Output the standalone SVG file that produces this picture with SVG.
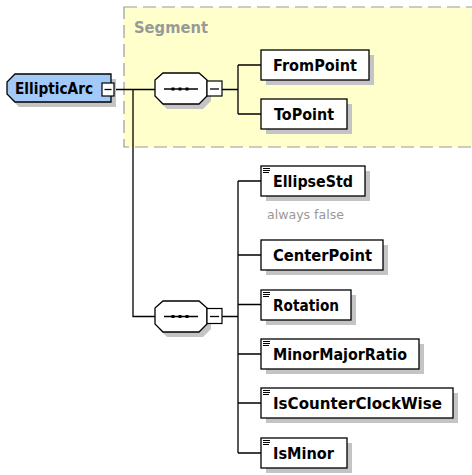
<svg xmlns="http://www.w3.org/2000/svg" width="472" height="475" viewBox="0 0 472 475">
<defs>
<style>
.sh{fill:#c4c4c4;stroke:none}
.box{fill:#ffffff;stroke:#000;stroke-width:1.3}
.t{font-family:"DejaVu Sans",Verdana,sans-serif;font-weight:bold;font-size:15px;fill:#000}
.ln{stroke:#000;stroke-width:1.3;fill:none}
.mb{fill:#fff;stroke:#000;stroke-width:1.2}
.ic{stroke:#000;stroke-width:1;fill:none}
</style>
<path id="oct" d="M8,0 H44 L52,7 V23 L44,31 H8 L0,23 V7 Z"/>
</defs>
<rect x="0" y="0" width="472" height="475" fill="#fff"/>

<g id="segment">
<rect x="124" y="7" width="360" height="140" fill="#ffffcc" stroke="#999" stroke-width="1.2" stroke-dasharray="13 6"/>
<text x="134" y="33" font-family="'DejaVu Sans',Verdana,sans-serif" font-weight="bold" font-size="15" fill="#999" textLength="74" lengthAdjust="spacingAndGlyphs">Segment</text>
</g>

<g id="connectors" class="ln">
<path d="M114,89.5 H155"/>
<path d="M133,89.5 V316.5 H155"/>
<path d="M222,89.5 H238 M238,65 V114 M238,65 H261 M238,114 H261"/>
<path d="M222,316.5 H238 M238,181 V453 M238,181 H261 M238,255 H261 M238,304.5 H261 M238,354 H261 M238,403 H261 M238,453 H261"/>
</g>

<g id="EllipticArc">
<path class="sh" d="M19,79 H116 V107 H19 L11,99 V87 Z"/>
<path d="M15,74 H111 V102 H15 L7,94 V82 Z" fill="#a2c9f7" stroke="#000" stroke-width="1.3"/>
<text class="t" x="15" y="94" textLength="78" lengthAdjust="spacingAndGlyphs">EllipticArc</text>
<rect class="mb" x="102" y="83" width="12" height="13"/>
<path class="ln" d="M104.5,89.5 H111.5"/>
</g>

<g id="seq1">
<use href="#oct" x="159" y="78" class="sh"/>
<use href="#oct" x="155" y="73" fill="#fff" stroke="#000" stroke-width="1.3"/>
<path class="ln" d="M164,89 H198"/>
<rect x="171.5" y="87.5" width="3" height="3" fill="#000"/>
<rect x="178.5" y="87.5" width="3" height="3" fill="#000"/>
<rect x="185.5" y="87.5" width="3" height="3" fill="#000"/>
<rect class="mb" x="207" y="81" width="15" height="15"/>
<path class="ln" d="M210,89 H219"/>
</g>

<g id="seq2">
<use href="#oct" x="159" y="306" class="sh"/>
<use href="#oct" x="155" y="301" fill="#fff" stroke="#000" stroke-width="1.3"/>
<path class="ln" d="M164,316.5 H198"/>
<rect x="171.5" y="315" width="3" height="3" fill="#000"/>
<rect x="178.5" y="315" width="3" height="3" fill="#000"/>
<rect x="185.5" y="315" width="3" height="3" fill="#000"/>
<rect class="mb" x="207" y="308.5" width="15" height="15"/>
<path class="ln" d="M210,316.5 H219"/>
</g>

<g id="FromPoint">
<rect class="sh" x="266" y="55" width="108" height="30"/>
<rect class="box" x="261" y="50" width="108" height="30"/>
<text class="t" x="273" y="71" textLength="84" lengthAdjust="spacingAndGlyphs">FromPoint</text>
</g>

<g id="ToPoint">
<rect class="sh" x="266" y="104" width="86" height="30"/>
<rect class="box" x="261" y="99" width="86" height="30"/>
<text class="t" x="274" y="120" textLength="60" lengthAdjust="spacingAndGlyphs">ToPoint</text>
</g>

<g id="EllipseStd">
<rect class="sh" x="266" y="171" width="104" height="30"/>
<rect class="box" x="261" y="166" width="104" height="30"/>
<path class="ic" d="M263,168.5 H270 M263,170.5 H270 M263,172.5 H269"/>
<text class="t" x="273" y="187" textLength="80" lengthAdjust="spacingAndGlyphs">EllipseStd</text>
<text x="267" y="219" font-family="'DejaVu Sans',Verdana,sans-serif" font-size="12" fill="#999" textLength="77" lengthAdjust="spacingAndGlyphs">always false</text>
</g>

<g id="CenterPoint">
<rect class="sh" x="266" y="245" width="122" height="30"/>
<rect class="box" x="261" y="240" width="122" height="30"/>
<text class="t" x="273" y="261" textLength="99" lengthAdjust="spacingAndGlyphs">CenterPoint</text>
</g>

<g id="Rotation">
<rect class="sh" x="266" y="295" width="90" height="30"/>
<rect class="box" x="261" y="290" width="90" height="30"/>
<path class="ic" d="M263,292.5 H270 M263,294.5 H270 M263,296.5 H269"/>
<text class="t" x="273" y="311" textLength="66" lengthAdjust="spacingAndGlyphs">Rotation</text>
</g>

<g id="MinorMajorRatio">
<rect class="sh" x="266" y="344" width="158" height="30"/>
<rect class="box" x="261" y="339" width="158" height="30"/>
<path class="ic" d="M263,341.5 H270 M263,343.5 H270 M263,345.5 H269"/>
<text class="t" x="273" y="360" textLength="134" lengthAdjust="spacingAndGlyphs">MinorMajorRatio</text>
</g>

<g id="IsCounterClockWise">
<rect class="sh" x="266" y="393" width="192" height="30"/>
<rect class="box" x="261" y="388" width="192" height="30"/>
<path class="ic" d="M263,390.5 H270 M263,392.5 H270 M263,394.5 H269"/>
<text class="t" x="273" y="409" textLength="169" lengthAdjust="spacingAndGlyphs">IsCounterClockWise</text>
</g>

<g id="IsMinor">
<rect class="sh" x="266" y="443" width="86" height="30"/>
<rect class="box" x="261" y="438" width="86" height="30"/>
<path class="ic" d="M263,440.5 H270 M263,442.5 H270 M263,444.5 H269"/>
<text class="t" x="273" y="459" textLength="61" lengthAdjust="spacingAndGlyphs">IsMinor</text>
</g>
</svg>
